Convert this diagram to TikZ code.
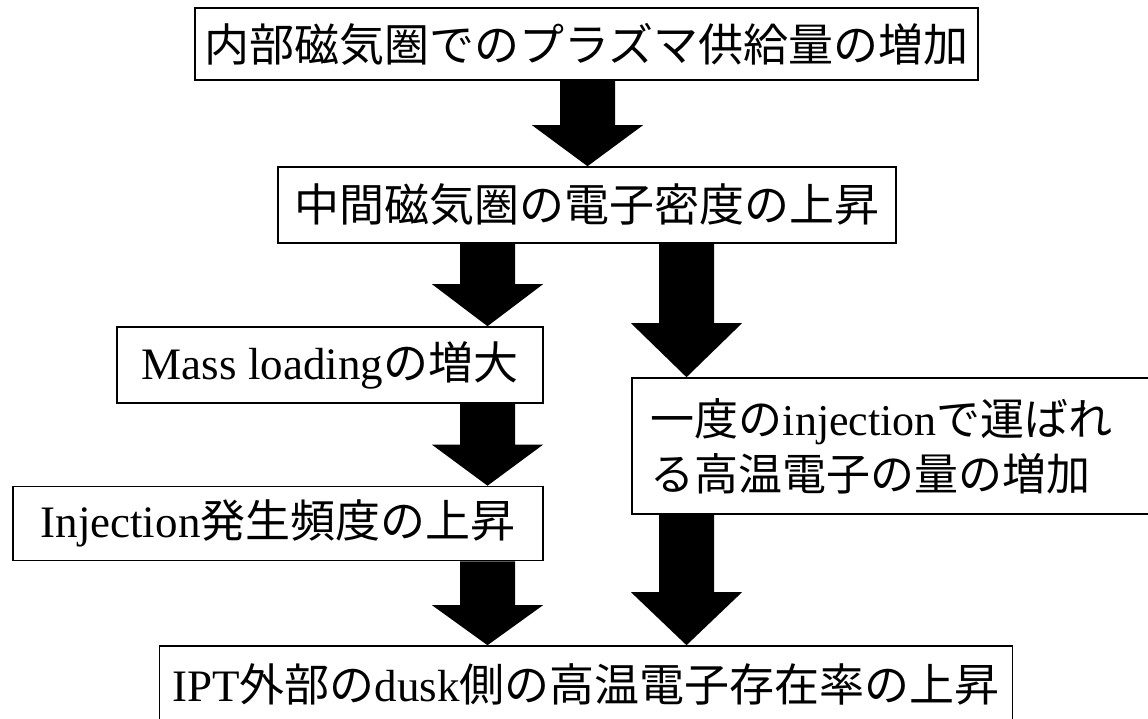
\documentclass[tikz,border=0pt]{standalone}
\usepackage{fontspec}
\setmainfont{Liberation Serif}
\newfontfamily\cjk{Noto Sans CJK JP}
\usetikzlibrary{calc}
\tikzset{
  box/.style={draw, line width=1.6pt, inner sep=0pt, align=center,
    font=\fontsize{45}{55}\selectfont},
  twoline/.style={font=\fontsize{44}{55}\selectfont},
}
% #1 from node, #2 to node, #3 x centre (px), #4 head length (px)
\newcommand\blockarrow[4]{%
  \fill let \p1=(#1.south), \p2=(#2.north) in
    (#3pt-27.5pt,\y1) -- (#3pt+27.5pt,\y1) -- (#3pt+27.5pt,\y2+#4pt)
    -- (#3pt+55.5pt,\y2+#4pt) -- (#3pt,\y2) -- (#3pt-55.5pt,\y2+#4pt)
    -- (#3pt-27.5pt,\y2+#4pt) -- cycle;}
\begin{document}
\begin{tikzpicture}[x=1pt,y=-1pt]
\useasboundingbox (0,0) rectangle (1148,718);
\node[box, minimum width=783pt, minimum height=72pt] (b1) at (586.5,44)
  {{\cjk 内部磁気圏でのプラズマ供給量の増加}};
\node[box, minimum width=618pt, minimum height=76pt] (b2) at (587,205)
  {{\cjk 中間磁気圏の電子密度の上昇}};
\node[box, minimum width=426pt, minimum height=76pt] (b3) at (330,365)
  {Mass loading{\cjk の増大}};
\node[box, minimum width=530pt, minimum height=74pt] (b4) at (278,523.5)
  {Injection{\cjk 発生頻度の上昇}};
\node[box, twoline, anchor=west, text width=490pt, inner xsep=19pt, minimum height=136pt, align=left] (b5) at (631,446)
  {{\cjk 一度の}injection{\cjk で運ばれ}\\{\cjk る高温電子の量の増加}};
\node[box, minimum width=853pt, minimum height=76pt] (b6) at (586,684)
  {IPT{\cjk 外部の}dusk{\cjk 側の高温電子存在率の上昇}};
\blockarrow{b1}{b2}{587.5}{41}
\blockarrow{b2}{b3}{487.5}{42}
\blockarrow{b2}{b5}{686.5}{54}
\blockarrow{b3}{b4}{487.5}{41}
\blockarrow{b4}{b6}{487.5}{40}
\blockarrow{b5}{b6}{686.5}{53}
\end{tikzpicture}
\end{document}
